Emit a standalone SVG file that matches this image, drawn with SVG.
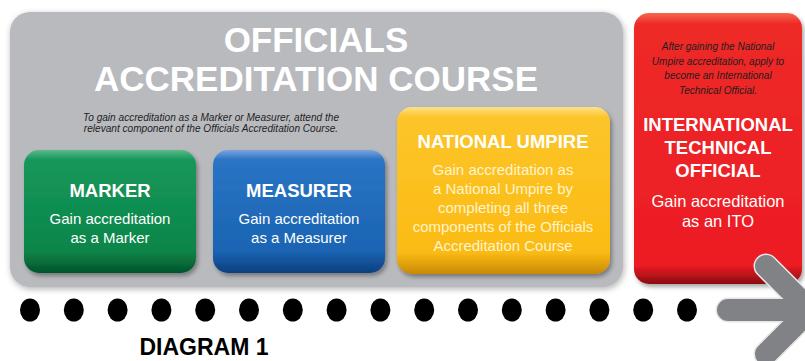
<svg xmlns="http://www.w3.org/2000/svg" width="805" height="361" viewBox="0 0 805 361">
<style>
.t{font-family:"Liberation Sans",Arial,sans-serif;text-anchor:middle}
.h{font-weight:bold;fill:#ffffff}
.b{fill:#ffffff}
.i{font-style:italic;fill:#1e1e1e}
.dot{fill:#000000}
</style>
<defs>
<filter id="sh" x="-10%" y="-10%" width="120%" height="125%">
<feDropShadow dx="2" dy="3" stdDeviation="2" flood-color="#000" flood-opacity="0.35"/>
</filter>
<filter id="psh" x="-5%" y="-5%" width="110%" height="115%">
<feDropShadow dx="1" dy="2" stdDeviation="3" flood-color="#000" flood-opacity="0.3"/>
</filter>
<linearGradient id="gG" x1="0" y1="0" x2="0" y2="1">
<stop offset="0" stop-color="#5bb98a"/><stop offset="0.08" stop-color="#16975a"/><stop offset="0.82" stop-color="#0b8549"/><stop offset="1" stop-color="#04552b"/>
</linearGradient>
<linearGradient id="gB" x1="0" y1="0" x2="0" y2="1">
<stop offset="0" stop-color="#7ba3e0"/><stop offset="0.08" stop-color="#2a74c4"/><stop offset="0.82" stop-color="#1a64b3"/><stop offset="1" stop-color="#0c3f7e"/>
</linearGradient>
<linearGradient id="gY" x1="0" y1="0" x2="0" y2="1">
<stop offset="0" stop-color="#fde08a"/><stop offset="0.06" stop-color="#fcc52a"/><stop offset="0.87" stop-color="#fbbb14"/><stop offset="1" stop-color="#c88a04"/>
</linearGradient>
<linearGradient id="gR" x1="0" y1="0" x2="0" y2="1">
<stop offset="0" stop-color="#f5684f"/><stop offset="0.04" stop-color="#ee2a27"/><stop offset="0.93" stop-color="#ec1c24"/><stop offset="1" stop-color="#8a0c10"/>
</linearGradient>
</defs>

<g id="panel">
<rect x="10" y="12" width="613" height="275" rx="20" fill="#b9babe" filter="url(#psh)"/>
<text class="t h" x="316" y="52" font-size="35">OFFICIALS</text>
<text class="t h" x="316" y="91" font-size="35">ACCREDITATION COURSE</text>
<text class="t i" x="211" y="121" font-size="10.1">To gain accreditation as a Marker or Measurer, attend the</text>
<text class="t i" x="211" y="132" font-size="10.1">relevant component of the Officials Accreditation Course.</text>
</g>

<g id="marker">
<rect x="24" y="150" width="172" height="123" rx="15" fill="url(#gG)" filter="url(#sh)"/>
<text class="t h" x="110" y="197" font-size="18.5">MARKER</text>
<text class="t b" x="110" y="224" font-size="15">Gain accreditation</text>
<text class="t b" x="110" y="243" font-size="15">as a Marker</text>
</g>

<g id="measurer">
<rect x="213" y="150" width="172" height="123" rx="15" fill="url(#gB)" filter="url(#sh)"/>
<text class="t h" x="299" y="197" font-size="18.5">MEASURER</text>
<text class="t b" x="299" y="224" font-size="15">Gain accreditation</text>
<text class="t b" x="299" y="243" font-size="15">as a Measurer</text>
</g>

<g id="national-umpire">
<rect x="397" y="107" width="213" height="167" rx="15" fill="url(#gY)" filter="url(#sh)"/>
<text class="t h" x="503" y="148" font-size="18.5">NATIONAL UMPIRE</text>
<g class="t" fill="#fff4cc" font-size="15">
<text x="503" y="175">Gain accreditation as</text>
<text x="503" y="194">a National Umpire by</text>
<text x="503" y="213">completing all three</text>
<text x="503" y="232">components of the Officials</text>
<text x="503" y="251">Accreditation Course</text>
</g>
</g>

<g id="ito">
<rect x="634" y="13" width="168" height="271" rx="15" fill="url(#gR)" filter="url(#sh)"/>
<g class="t i" font-size="10">
<text x="718" y="50">After gaining the National</text>
<text x="718" y="64.5">Umpire accreditation, apply to</text>
<text x="718" y="79">become an International</text>
<text x="718" y="93.5">Technical Official.</text>
</g>
<text class="t h" x="718" y="131" font-size="18.5">INTERNATIONAL</text>
<text class="t h" x="718" y="154" font-size="18.5">TECHNICAL</text>
<text class="t h" x="718" y="177" font-size="18.5">OFFICIAL</text>
<text class="t b" x="718" y="207" font-size="16.5">Gain accreditation</text>
<text class="t b" x="718" y="227" font-size="16.5">as an ITO</text>
</g>

<g id="connectors">
<ellipse class="dot" cx="30" cy="310" rx="10" ry="11.5"/>
<ellipse class="dot" cx="73.8" cy="310" rx="10" ry="11.5"/>
<ellipse class="dot" cx="117.6" cy="310" rx="10" ry="11.5"/>
<ellipse class="dot" cx="161.4" cy="310" rx="10" ry="11.5"/>
<ellipse class="dot" cx="205.2" cy="310" rx="10" ry="11.5"/>
<ellipse class="dot" cx="249" cy="310" rx="10" ry="11.5"/>
<ellipse class="dot" cx="292.8" cy="310" rx="10" ry="11.5"/>
<ellipse class="dot" cx="336.6" cy="310" rx="10" ry="11.5"/>
<ellipse class="dot" cx="380.4" cy="310" rx="10" ry="11.5"/>
<ellipse class="dot" cx="424.2" cy="310" rx="10" ry="11.5"/>
<ellipse class="dot" cx="468" cy="310" rx="10" ry="11.5"/>
<ellipse class="dot" cx="511.8" cy="310" rx="10" ry="11.5"/>
<ellipse class="dot" cx="555.6" cy="310" rx="10" ry="11.5"/>
<ellipse class="dot" cx="599.4" cy="310" rx="10" ry="11.5"/>
<ellipse class="dot" cx="643.2" cy="310" rx="10" ry="11.5"/>
<ellipse class="dot" cx="687" cy="310" rx="10" ry="11.5"/>
<g fill="none" stroke-linecap="round" stroke-linejoin="miter">
<path d="M728 310 H812 M766 266 L810 310 L766 354" stroke="#e6e6e8" stroke-width="25"/>
<path d="M728 310 H812 M766 266 L810 310 L766 354" stroke="#808285" stroke-width="22"/>
</g>
</g>

<text class="t" x="204" y="355" font-size="23" font-weight="bold" fill="#000000">DIAGRAM 1</text>
</svg>
